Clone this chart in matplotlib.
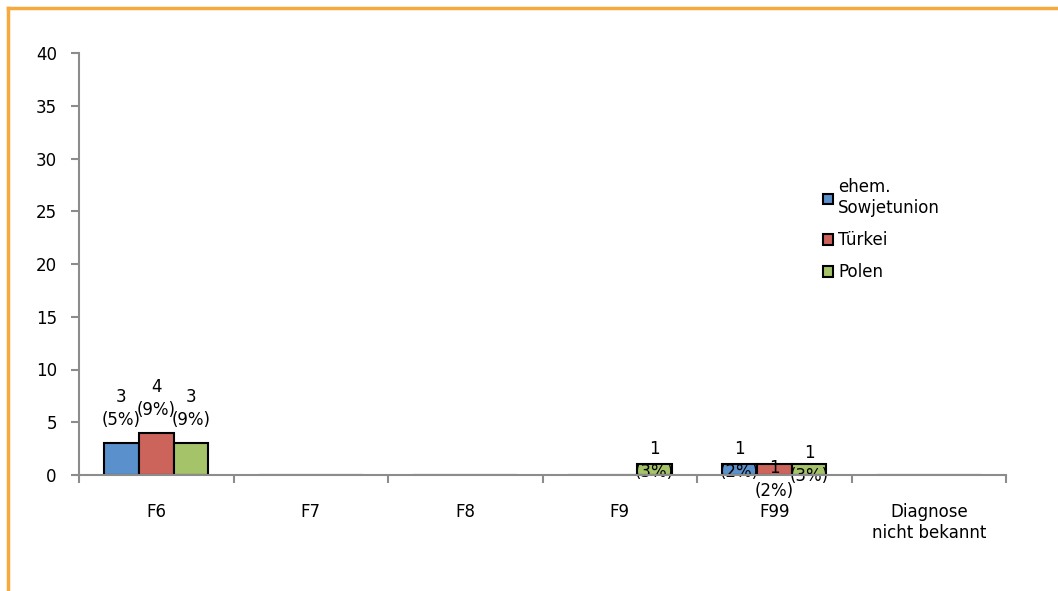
import numpy as np
import matplotlib
matplotlib.use("Agg")
import matplotlib.pyplot as plt
from matplotlib.lines import Line2D
from matplotlib import font_manager

categories = ["F6", "F7", "F8", "F9", "F99", "Diagnose\nnicht bekannt"]
series_names = ["ehem.\nSowjetunion", "Türkei", "Polen"]
sowjetunion = [3, 0, 0, 0, 1, 0]
tuerkei = [4, 0, 0, 0, 1, 0]
polen = [3, 0, 0, 1, 1, 0]
sowjetunion_pct = ["5%", None, None, None, "2%", None]
tuerkei_pct = ["9%", None, None, None, "2%", None]
polen_pct = ["9%", None, None, "3%", "3%", None]

colors = ["#5A90CC", "#CC645C", "#A5C46A"]
# vertical label offsets (pixels from bar top), mimicking the original placement
label_dy = [
    [35, 0, 0, 0, 4, 0],
    [34, 0, 0, 0, -15, 0],
    [35, 0, 0, 4, 0, 0],
]

names = {f.name for f in font_manager.fontManager.ttflist}
narrow = "Liberation Sans Narrow" in names
fam = ["Liberation Sans Narrow", "DejaVu Sans"] if narrow else ["DejaVu Sans"]
fs = 14.5 if narrow else 12
plt.rcParams.update({"font.family": fam, "font.size": fs})
fig = plt.figure(figsize=(10.58, 5.91), dpi=100)
ax = fig.add_axes([79 / 1058, 1 - 475 / 591, (1006 - 79) / 1058, (475 - 53) / 591])

x = np.arange(len(categories))
w = 0.225
data = [sowjetunion, tuerkei, polen]
pcts = [sowjetunion_pct, tuerkei_pct, polen_pct]
for i, (vals, pct, name, col) in enumerate(zip(data, pcts, series_names, colors)):
    xs = x + (i - 1) * w
    ax.bar(xs, vals, w, color=col, edgecolor="black", linewidth=1.5, label=name, zorder=3)
    for xi, v, p, dy in zip(xs, vals, pct, label_dy[i]):
        if p is None:
            continue
        ax.annotate(f"{v}\n({p})", xy=(xi, v), xytext=(0, dy), textcoords="offset pixels",
                    ha="center", va="center", fontsize=fs, linespacing=1.35, zorder=4)

ax.set_xlim(-0.5, len(categories) - 0.5)
ax.set_ylim(0, 40)
ax.set_yticks(range(0, 41, 5))
ax.set_xticks(x)
ax.set_xticklabels(categories, linespacing=1.25)
ax.set_xticks(np.arange(-0.5, len(categories)), minor=True)
ax.tick_params(axis="x", which="major", length=0, pad=20)
ax.tick_params(axis="x", which="minor", length=6, color="#8c8c8c", width=1.5)
ax.tick_params(axis="y", length=6, color="#8c8c8c", width=1.5, pad=10)
for s in ["top", "right"]:
    ax.spines[s].set_visible(False)
for s in ["left", "bottom"]:
    ax.spines[s].set_color("#8c8c8c")
    ax.spines[s].set_linewidth(1.5)
ax.spines["bottom"].set_zorder(5)

ax.legend(loc="upper left", bbox_to_anchor=(815 / 1058, 1 - 170 / 591),
          bbox_transform=fig.transFigure, frameon=False, handlelength=0.6,
          handleheight=0.6, handletextpad=0.3, labelspacing=0.85, fontsize=fs,
          borderpad=0)

# orange frame around the chart area
oc = "#F6A93F"
fig.add_artist(Line2D([8 / 1058, 1.0], [1 - 8 / 591, 1 - 8 / 591], color=oc, lw=2.5,
                      transform=fig.transFigure))
fig.add_artist(Line2D([8 / 1058, 8 / 1058], [0.0, 1 - 8 / 591], color=oc, lw=2.5,
                      transform=fig.transFigure))

fig.savefig("out.png", dpi=100)
